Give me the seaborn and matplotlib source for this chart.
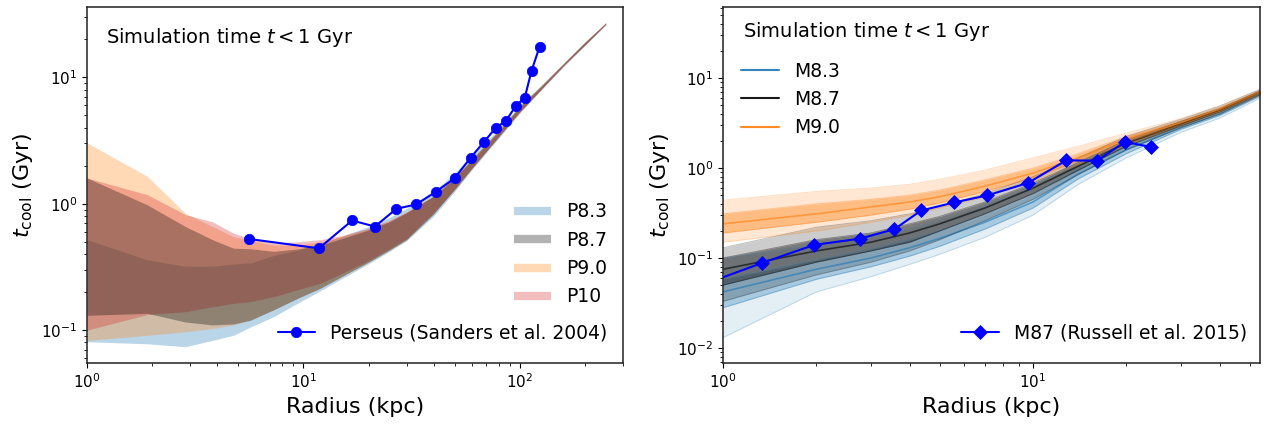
import matplotlib
matplotlib.use("Agg")
import matplotlib.pyplot as plt
from matplotlib.lines import Line2D
import seaborn as sns
import numpy as np

# ---------------- Left panel: Perseus-like runs (bands of t_cool) ----------------
r_left = [1.0, 1.9, 2.85, 3.8, 4.75, 5.7, 7.3, 9.5, 12, 15, 20, 25, 30, 40, 50, 60, 80, 100, 125, 160, 200, 250]

p83_lo = [0.081, 0.078, 0.074, 0.083, 0.091, 0.106, 0.128, 0.165, 0.205, 0.255, 0.335, 0.42, 0.51, 0.80, 1.25, 1.85, 3.3, 5.2, 7.9, 12.3, 18.0, 26.0]
p83_hi = [0.52, 0.36, 0.32, 0.32, 0.334, 0.34, 0.39, 0.43, 0.49, 0.55, 0.66, 0.78, 0.92, 1.25, 1.75, 2.4, 3.9, 6.0, 8.6, 13.0, 19.0, 27.0]

p87_lo = [0.131, 0.136, 0.116, 0.11, 0.112, 0.12, 0.145, 0.18, 0.215, 0.265, 0.345, 0.43, 0.52, 0.83, 1.3, 1.9, 3.4, 5.35, 8.0, 12.5, 18.0, 26.5]
p87_hi = [1.60, 0.98, 0.66, 0.52, 0.445, 0.44, 0.42, 0.44, 0.47, 0.53, 0.62, 0.72, 0.85, 1.15, 1.6, 2.25, 3.8, 5.9, 8.5, 13.0, 19.0, 27.0]

p90_lo = [0.083, 0.091, 0.097, 0.103, 0.11, 0.12, 0.145, 0.18, 0.215, 0.265, 0.345, 0.43, 0.52, 0.84, 1.3, 1.9, 3.4, 5.3, 8.0, 12.5, 18.0, 26.5]
p90_hi = [3.03, 1.65, 0.84, 0.66, 0.55, 0.51, 0.47, 0.47, 0.50, 0.55, 0.63, 0.73, 0.86, 1.15, 1.6, 2.25, 3.8, 5.9, 8.5, 13.0, 19.0, 27.0]

p10_lo = [0.10, 0.133, 0.14, 0.153, 0.163, 0.168, 0.184, 0.21, 0.235, 0.28, 0.355, 0.44, 0.53, 0.85, 1.3, 1.9, 3.4, 5.3, 7.9, 12.3, 18.0, 26.0]
p10_hi = [1.60, 1.18, 0.82, 0.72, 0.585, 0.53, 0.49, 0.50, 0.52, 0.56, 0.64, 0.74, 0.86, 1.15, 1.6, 2.2, 3.7, 5.8, 8.3, 12.8, 18.8, 27.0]

perseus_r = [5.63, 11.8, 16.8, 21.4, 26.9, 33.2, 41.0, 50.0, 59.3, 68.5, 77.6, 86.3, 96.1, 105.4, 113.4, 123.4]
perseus_t = [0.526, 0.444, 0.737, 0.66, 0.912, 0.988, 1.246, 1.59, 2.32, 3.10, 4.0, 4.52, 5.98, 6.89, 11.3, 17.4]

# ---------------- Right panel: M87-like runs (profiles) ----------------
r_right = [1, 2, 3, 4, 5, 7, 10, 14, 20, 30, 40, 54]

m83_olo = [0.013, 0.042, 0.062, 0.085, 0.11, 0.17, 0.30, 0.66, 1.30, 2.50, 3.60, 6.0]
m83_ilo = [0.028, 0.058, 0.080, 0.105, 0.135, 0.21, 0.36, 0.76, 1.45, 2.70, 3.85, 6.3]
m83_med = [0.042, 0.075, 0.100, 0.130, 0.165, 0.25, 0.42, 0.86, 1.60, 2.85, 4.00, 6.6]
m83_ihi = [0.058, 0.095, 0.125, 0.160, 0.200, 0.30, 0.50, 0.98, 1.75, 3.00, 4.20, 6.9]
m83_ohi = [0.100, 0.140, 0.170, 0.210, 0.260, 0.38, 0.62, 1.18, 1.95, 3.30, 4.50, 7.3]

m87_olo = [0.033, 0.065, 0.09, 0.12, 0.16, 0.26, 0.45, 0.85, 1.60, 2.80, 4.0, 6.5]
m87_ilo = [0.050, 0.090, 0.12, 0.15, 0.20, 0.31, 0.52, 0.95, 1.75, 2.95, 4.2, 6.7]
m87_med = [0.075, 0.120, 0.15, 0.19, 0.24, 0.36, 0.60, 1.05, 1.90, 3.10, 4.4, 7.0]
m87_ihi = [0.100, 0.160, 0.19, 0.24, 0.29, 0.42, 0.68, 1.15, 2.05, 3.30, 4.6, 7.2]
m87_ohi = [0.130, 0.220, 0.26, 0.31, 0.37, 0.52, 0.80, 1.30, 2.25, 3.50, 4.9, 7.5]

m90_olo = [0.15, 0.20, 0.25, 0.30, 0.36, 0.48, 0.70, 1.10, 1.80, 2.90, 4.10, 6.4]
m90_ilo = [0.19, 0.25, 0.30, 0.35, 0.41, 0.55, 0.78, 1.20, 1.95, 3.05, 4.30, 6.7]
m90_med = [0.24, 0.31, 0.37, 0.42, 0.48, 0.63, 0.88, 1.30, 2.10, 3.20, 4.50, 7.0]
m90_ihi = [0.31, 0.40, 0.45, 0.50, 0.57, 0.74, 1.00, 1.45, 2.25, 3.35, 4.65, 7.2]
m90_ohi = [0.44, 0.55, 0.60, 0.66, 0.75, 0.95, 1.30, 1.75, 2.45, 3.55, 4.90, 7.5]

m87obs_r = [0.8, 1.335, 1.97, 2.76, 3.57, 4.36, 5.57, 7.13, 9.65, 12.8, 16.1, 19.8, 24.0]
m87obs_t = [0.046, 0.088, 0.140, 0.164, 0.209, 0.338, 0.415, 0.498, 0.685, 1.22, 1.21, 1.96, 1.72]

sns.set_style("ticks")
plt.rcParams["font.family"] = ["DejaVu Sans"]
plt.rcParams["mathtext.fontset"] = "dejavusans"
for key in ["text.color", "axes.labelcolor", "xtick.color", "ytick.color", "axes.edgecolor"]:
    plt.rcParams[key] = "black"

fig = plt.figure(figsize=(12.64, 4.24), dpi=100)
ax1 = fig.add_axes([0.0688, 0.1439, 0.4241, 0.8396])
ax2 = fig.add_axes([0.572, 0.1439, 0.4248, 0.8396])

C_BLUE = "#1f77b4"
C_ORANGE = "#ff7f0e"
C_RED = "#d62728"
C_BLACK = "k"

# bands, drawn blue, orange, red, black (black on top)
for lo, hi, c in [(p83_lo, p83_hi, C_BLUE), (p90_lo, p90_hi, C_ORANGE),
                  (p10_lo, p10_hi, C_RED), (p87_lo, p87_hi, C_BLACK)]:
    ax1.fill_between(r_left, lo, hi, color=c, alpha=0.3, lw=0, zorder=1)

sns.lineplot(x=perseus_r, y=perseus_t, ax=ax1, color="b", marker="o", markersize=7.5,
             markeredgecolor="b", markeredgewidth=0.5, lw=1.5, sort=False, estimator=None,
             label="Perseus (Sanders et al. 2004)", zorder=5)

ax1.set_xscale("log")
ax1.set_yscale("log")
ax1.set_xlim(1, 300)
ax1.set_ylim(0.055, 36)

band_handles = [Line2D([], [], color=c, alpha=0.3, lw=6, solid_capstyle="butt")
                for c in (C_BLUE, C_BLACK, C_ORANGE, C_RED)]
band_labels = ["P8.3", "P8.7", "P9.0", "P10"]
h_obs, l_obs = ax1.get_legend_handles_labels()
leg1 = ax1.legend(band_handles, band_labels, loc="center right", bbox_to_anchor=(0.985, 0.305),
                  frameon=False, fontsize=13.5, borderaxespad=0, handlelength=2.0)
ax1.add_artist(leg1)
ax1.legend(h_obs, l_obs, loc="center right", bbox_to_anchor=(0.985, 0.085),
           frameon=False, fontsize=13.5, borderaxespad=0, handlelength=2.0)

ax1.text(0.035, 0.915, "Simulation time $t < 1$ Gyr", transform=ax1.transAxes,
         fontsize=14, va="center", ha="left")

# right panel
groups = [
    ("M8.3", C_BLUE, m83_olo, m83_ilo, m83_med, m83_ihi, m83_ohi, 0.12, 0.3),
    ("M8.7", C_BLACK, m87_olo, m87_ilo, m87_med, m87_ihi, m87_ohi, 0.2, 0.4),
    ("M9.0", C_ORANGE, m90_olo, m90_ilo, m90_med, m90_ihi, m90_ohi, 0.18, 0.4),
]
model_handles = []
for name, c, olo, ilo, med, ihi, ohi, aout, ain in groups:
    ax2.fill_between(r_right, olo, ohi, color=c, alpha=aout, lw=0, zorder=1)
    ax2.fill_between(r_right, ilo, ihi, color=c, alpha=ain, lw=0, zorder=1)
    for prof, a in [(olo, 0.2), (ilo, 0.35), (ihi, 0.35), (ohi, 0.25)]:
        sns.lineplot(x=r_right, y=prof, ax=ax2, color=c, lw=0.7, alpha=a,
                     sort=False, estimator=None, zorder=2)
    sns.lineplot(x=r_right, y=med, ax=ax2, color=c, lw=1.2, alpha=0.6,
                 sort=False, estimator=None, zorder=2)
    model_handles.append(Line2D([], [], color=c, lw=1.5, alpha=0.9))

sns.lineplot(x=m87obs_r, y=m87obs_t, ax=ax2, color="b", marker="D", markersize=7.5,
             markeredgecolor="b", markeredgewidth=0.5, lw=1.5, sort=False, estimator=None,
             label="M87 (Russell et al. 2015)", zorder=5)

ax2.set_xscale("log")
ax2.set_yscale("log")
ax2.set_xlim(1, 54)
ax2.set_ylim(0.0068, 62)

h2, l2 = ax2.get_legend_handles_labels()
leg2 = ax2.legend(model_handles, ["M8.3", "M8.7", "M9.0"], loc="center left",
                  bbox_to_anchor=(0.02, 0.74), frameon=False, fontsize=13.5,
                  borderaxespad=0, handlelength=2.0)
ax2.add_artist(leg2)
ax2.legend(h2, l2, loc="center right", bbox_to_anchor=(0.99, 0.085),
           frameon=False, fontsize=13.5, borderaxespad=0, handlelength=2.0)

ax2.text(0.037, 0.93, "Simulation time $t < 1$ Gyr", transform=ax2.transAxes,
         fontsize=14, va="center", ha="left")

for ax in (ax1, ax2):
    ax.set_xlabel("Radius (kpc)", fontsize=16)
    ax.set_ylabel(r"$t_{\rm cool}$ (Gyr)", fontsize=16)
    ax.tick_params(axis="both", which="major", labelsize=11)
    for s in ax.spines.values():
        s.set_linewidth(1.1)
        s.set_color("#222222")

fig.savefig("out.png", dpi=100)
